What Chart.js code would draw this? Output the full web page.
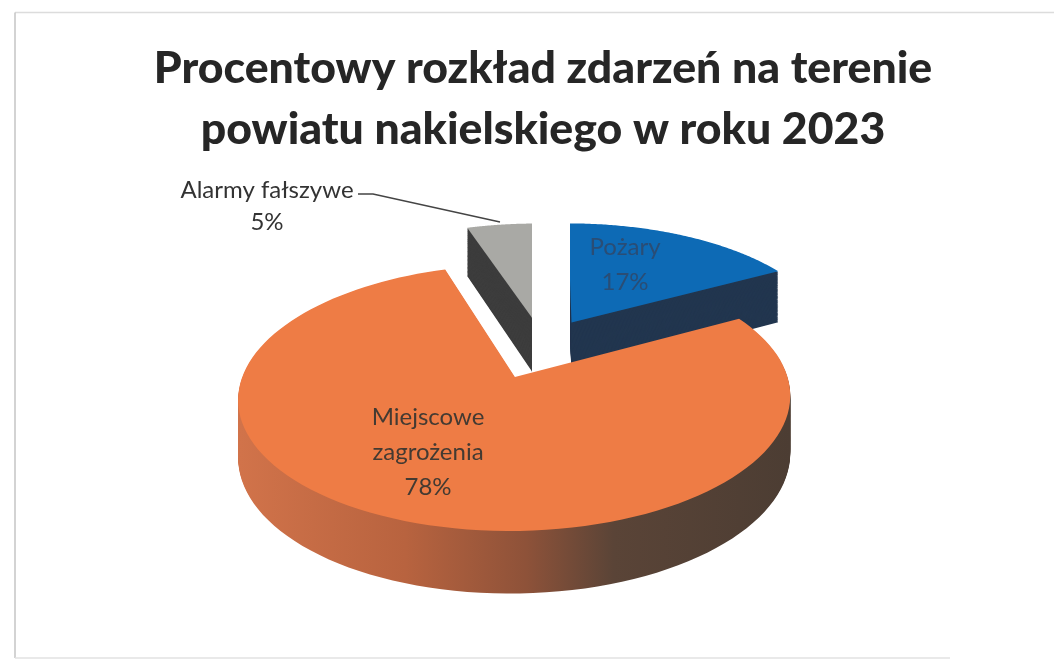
<!DOCTYPE html>
<html>
<head>
<meta charset="utf-8">
<style>
  html, body { margin: 0; padding: 0; background: #fff; }
  #wrap { position: relative; width: 1054px; height: 661px; }
</style>
<script src="https://cdn.jsdelivr.net/npm/chart.js@4"></script>
</head>
<body>
<div id="wrap"><canvas id="pie" width="1054" height="661"></canvas></div>
<script>
// === DATA ===
const titleLines = ['Procentowy rozkład zdarzeń na terenie', 'powiatu nakielskiego w roku 2023'];
const categories = ['Pożary', 'Miejscowe zagrożenia', 'Alarmy fałszywe'];
const shares     = [17, 78, 5];
const labelLines = [['Pożary'], ['Miejscowe', 'zagrożenia'], ['Alarmy fałszywe']];

const FACE_COLORS = ['#0d6ab5', '#ee7c45', '#a9a9a5'];
const WALL_COLORS = ['#22364f', null, '#3d3d3d'];
const TEXT_COLORS = ['#2a4d75', '#433a32', '#333333'];
const LABEL_SPOTS = [[625, 247], [428, 417], [267, 190]];
const LINE_HEIGHT = [35, 35, 32];
const PAINT_ORDER = [2, 0, 1];
// straight cut edges of the two back slices stay vertical in the picture
const CLIP_SPANS  = [[570, 1054], [0, 1054], [0, 532]];

// === PROJECTION === flat pie (in radii) to the tilted view
const VIEW = { cx: 543, cy: 344.5, ax: 262, ay: 120, persp: 0.15, depth: 55, depthGrow: 6 };

function project(px, py, lift) {
    const w = 1 - VIEW.persp * py;
    const drop = lift * (VIEW.depth + VIEW.depthGrow * py);
    return [VIEW.cx + VIEW.ax * px / w, VIEW.cy + VIEW.ay * py / w + drop];
}

// outline of one slice, as flat coordinates read from the arc element
function sliceOutline(arc) {
    const p = arc.getProps(['startAngle', 'endAngle', 'outerRadius']);
    const mid = (p.startAngle + p.endAngle) / 2;
    const off = arc.options.offset / p.outerRadius;
    const ox = Math.cos(mid) * off;
    const oy = Math.sin(mid) * off;
    const pts = [[ox, oy]];
    for (let i = 0; i <= 120; i++) {
        const a = p.startAngle + (p.endAngle - p.startAngle) * i / 120;
        pts.push([ox + Math.cos(a), oy + Math.sin(a)]);
    }
    return pts;
}

function fillOutline(ctx, pts, lift, style) {
    ctx.beginPath();
    pts.forEach((pt, i) => {
        const [x, y] = project(pt[0], pt[1], lift);
        if (i === 0) ctx.moveTo(x, y); else ctx.lineTo(x, y);
    });
    ctx.closePath();
    ctx.fillStyle = style;
    ctx.fill();
}

function orangeWall(ctx) {
    const g = ctx.createLinearGradient(240, 0, 790, 0);
    g.addColorStop(0,    '#d1734a');
    g.addColorStop(0.3,  '#b8633f');
    g.addColorStop(0.52, '#8e5239');
    g.addColorStop(0.68, '#5a4437');
    g.addColorStop(1,    '#4c3d33');
    return g;
}

const tiltedPie = {
    id: 'tiltedPie',
    beforeDatasetsDraw(chart) {
        const ctx  = chart.ctx;
        const arcs = chart.getDatasetMeta(0).data;
        PAINT_ORDER.forEach(i => {
            const pts  = sliceOutline(arcs[i]);
            const wall = WALL_COLORS[i] || orangeWall(ctx);
            ctx.save();
            ctx.beginPath();
            ctx.rect(CLIP_SPANS[i][0], 0, CLIP_SPANS[i][1] - CLIP_SPANS[i][0], 661);
            ctx.clip();
            for (let t = 60; t > 0; t--) fillOutline(ctx, pts, t / 60, wall);
            fillOutline(ctx, pts, 0, FACE_COLORS[i]);
            ctx.restore();
        });
        return false;
    },
};

function strokeEdge(ctx, color, x1, y1, x2, y2) {
    ctx.strokeStyle = color;
    ctx.beginPath();
    ctx.moveTo(x1, y1);
    ctx.lineTo(x2, y2);
    ctx.stroke();
}

const frameAndLabels = {
    id: 'frameAndLabels',
    beforeDraw(chart) {
        const ctx = chart.ctx;
        ctx.save();
        ctx.lineWidth = 1.5;
        strokeEdge(ctx, '#dcdcdc', 1054, 12.5, 15, 12.5);
        strokeEdge(ctx, '#c4c4c4', 15, 12.5, 15, 658);
        strokeEdge(ctx, '#e2e2e2', 15, 658, 950, 658);
        ctx.restore();
    },
    afterDraw(chart) {
        const ctx = chart.ctx;
        ctx.save();
        ctx.font = '24px Lato';
        ctx.textAlign = 'center';
        ctx.textBaseline = 'middle';
        categories.forEach((name, i) => {
            const lines = labelLines[i].concat(shares[i] + '%');
            ctx.fillStyle = TEXT_COLORS[i];
            lines.forEach((line, n) => {
                ctx.fillText(line, LABEL_SPOTS[i][0], LABEL_SPOTS[i][1] + n * LINE_HEIGHT[i]);
            });
        });
        // leader line of the small slice
        ctx.lineWidth = 1.4;
        ctx.strokeStyle = '#444444';
        ctx.beginPath();
        ctx.moveTo(358, 194);
        ctx.lineTo(373, 194);
        ctx.lineTo(500, 222);
        ctx.stroke();
        ctx.restore();
    },
};

new Chart(document.getElementById('pie').getContext('2d'), {
    type: 'pie',
    data: {
        labels: categories,
        datasets: [{
            data:            shares,
            backgroundColor: FACE_COLORS,
            borderWidth:     0,
            offset:          [44, 56, 38],
        }],
    },
    options: {
        responsive: false,
        animation:  false,
        radius:     200,
        layout:     { padding: { left: 32 } },
        plugins: {
            legend:  { display: false },
            tooltip: { enabled: false },
            title: {
                display:  true,
                text:     titleLines,
                color:    '#262626',
                font:     { family: 'Lato', size: 44.6, weight: '900', lineHeight: 1.35 },
                padding:  { top: 39, bottom: 10 },
            },
        },
    },
    plugins: [frameAndLabels, tiltedPie],
});
</script>
</body>
</html>
